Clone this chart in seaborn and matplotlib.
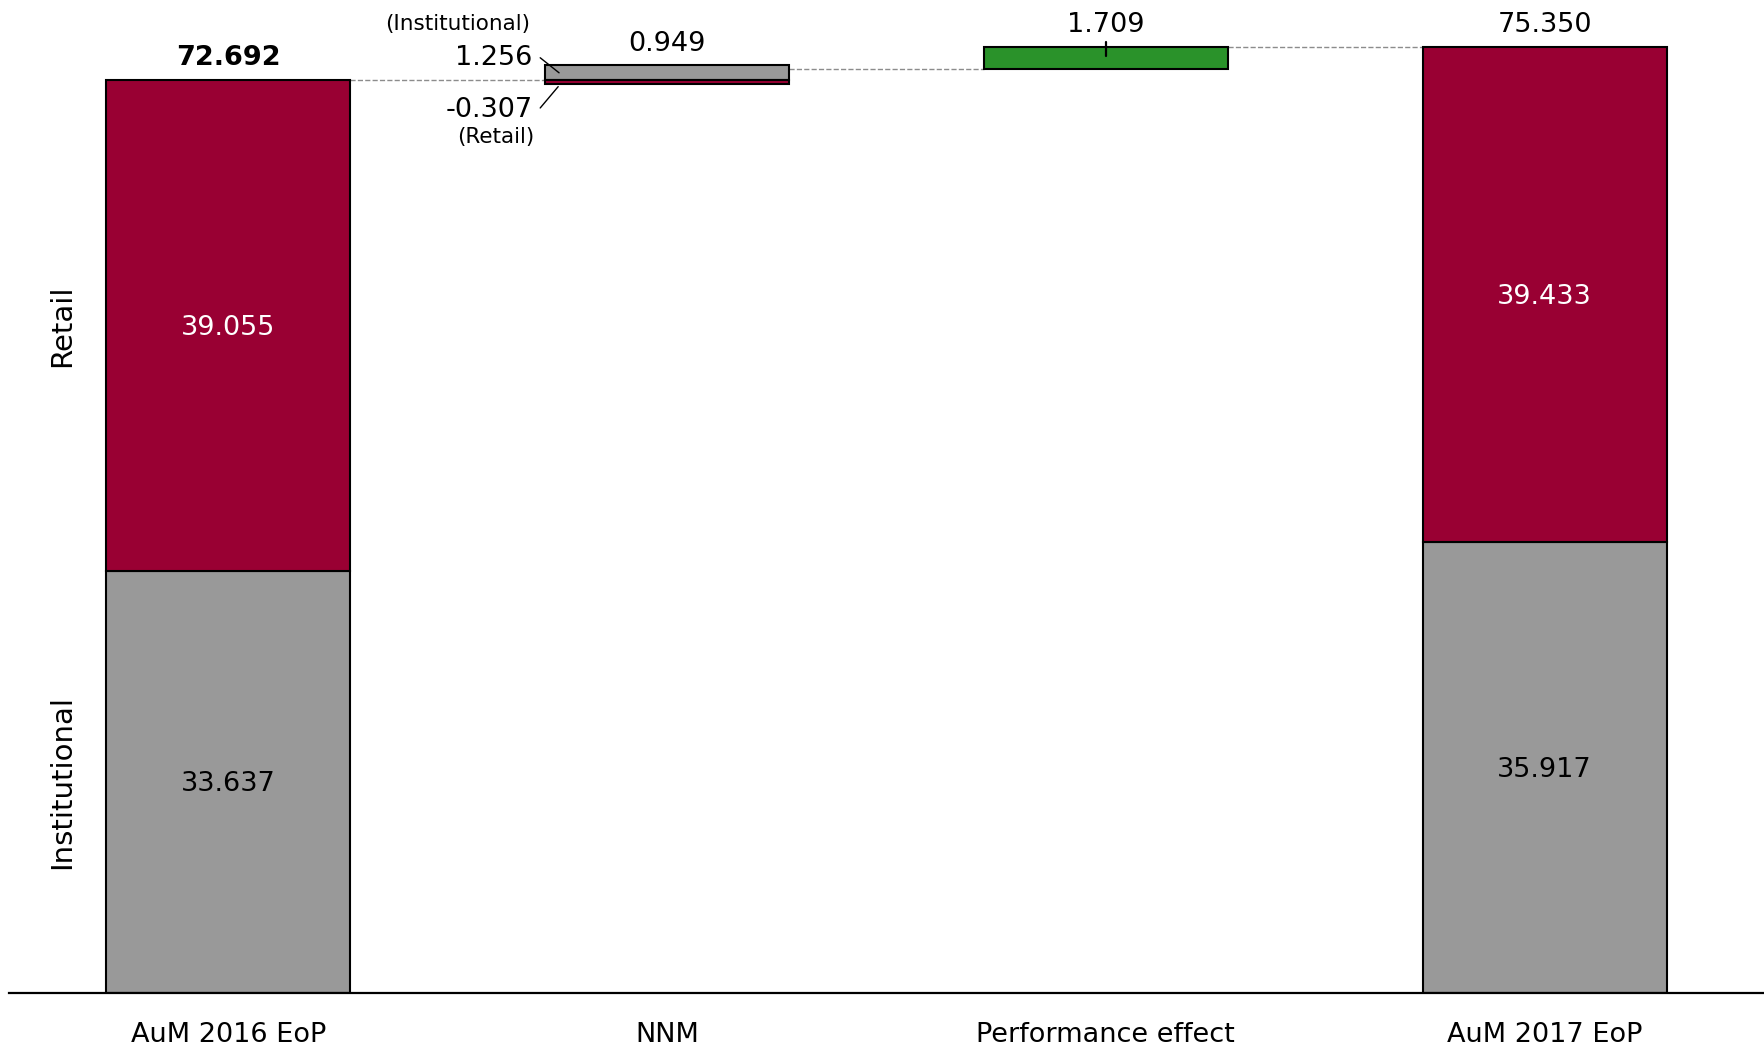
import matplotlib
matplotlib.use("Agg")
import matplotlib.pyplot as plt
import seaborn as sns
import pandas as pd

# Categories and values (AuM bridge, EUR bn)
categories = ["AuM 2016 EoP", "NNM", "Performance effect", "AuM 2017 EoP"]
start_institutional = 33.637
start_retail = 39.055
start_total = 72.692
nnm_institutional = 1.256
nnm_retail = -0.307
nnm_total = 0.949
performance = 1.709
end_institutional = 35.917
end_retail = 39.433
end_total = 75.350

RED = "#990033"
GREY = "#999999"
GREEN = "#2a922a"

sns.set_theme(style="white")
plt.rcParams["font.family"] = ["DejaVu Sans"]

fig = plt.figure(figsize=(17.64, 10.52), dpi=100)
ax = fig.add_axes([0.005, 0.056, 0.995, 0.944])

# Segments: category, bottom, height, colour
nnm_base = start_total
perf_base = start_total + nnm_total
segments = pd.DataFrame([
    (categories[0], 0.0, start_institutional, GREY),
    (categories[0], start_institutional, start_retail, RED),
    (categories[1], nnm_base, nnm_institutional, GREY),
    (categories[1], nnm_base + nnm_retail, -nnm_retail, RED),
    (categories[2], perf_base, performance, GREEN),
    (categories[3], 0.0, end_institutional, GREY),
    (categories[3], end_institutional, end_retail, RED),
], columns=["category", "bottom", "height", "color"])

BAR_W = 0.556
for _, seg in segments.iterrows():
    sns.barplot(x=[seg["category"]], y=[seg["height"]], order=categories,
                bottom=seg["bottom"], color=seg["color"], saturation=1,
                edgecolor="black", linewidth=1.5, width=BAR_W, ax=ax)

ax.set_xlim(-0.5, 3.5)
ax.set_ylim(0, 79.1)
ax.set_xlabel("")
ax.set_ylabel("")
ax.set_yticks([])
for side in ["top", "right", "left"]:
    ax.spines[side].set_visible(False)
ax.spines["bottom"].set_color("black")
ax.spines["bottom"].set_linewidth(1.6)
ax.tick_params(axis="x", length=0, pad=21, labelsize=19.5, colors="black")

# Dashed connectors between consecutive bars
half = BAR_W / 2
levels = [start_total, start_total + nnm_total, end_total]
for i, lvl in enumerate(levels):
    ax.plot([i + half, i + 1 - half], [lvl, lvl], ls="--", color="#8c8c8c",
            lw=1.0, zorder=0)

fs = 19.5
# Totals above the end bars
ax.text(0, start_total + 1.75, f"{start_total:.3f}", ha="center", va="center",
        fontsize=fs, fontweight="bold", color="black")
ax.text(3, end_total + 1.75, f"{end_total:.3f}", ha="center", va="center",
        fontsize=fs, color="black")

# Segment values inside the end bars
ax.text(0, start_institutional + start_retail / 2 - 0.2, f"{start_retail:.3f}",
        ha="center", va="center", fontsize=fs, color="white")
ax.text(0, start_institutional / 2 - 0.2, f"{start_institutional:.3f}",
        ha="center", va="center", fontsize=fs, color="black")
ax.text(3, end_institutional + end_retail / 2 - 0.2, f"{end_retail:.3f}",
        ha="center", va="center", fontsize=fs, color="white")
ax.text(3, end_institutional / 2 - 0.2, f"{end_institutional:.3f}",
        ha="center", va="center", fontsize=fs, color="black")

# NNM labels
ax.text(1, nnm_base + nnm_institutional + 1.65, f"{nnm_total:.3f}",
        ha="center", va="center", fontsize=fs, color="black")
lx = 1 - half - 0.028
ax.text(lx, start_total + 1.75, f"{nnm_institutional:.3f}", ha="right",
        va="center", fontsize=fs, color="black")
ax.text(lx - 0.007, 77.15, "(Institutional)", ha="right", va="center",
        fontsize=15.5, color="black")
ax.text(lx, start_total - 2.35, f"{nnm_retail:.3f}", ha="right",
        va="center", fontsize=fs, color="black")
ax.text(lx + 0.004, 68.2, "(Retail)", ha="right", va="center",
        fontsize=15.5, color="black")
ax.plot([0.711, 0.754], [74.5, 73.3], color="black", lw=1.0)
ax.plot([0.711, 0.752], [70.5, 72.2], color="black", lw=1.0)

# Performance label with tick into the bar
ax.text(2, end_total + 1.75, f"{performance:.3f}", ha="center", va="center",
        fontsize=fs, color="black")
ax.plot([2, 2], [75.75, 74.65], color="black", lw=1.6)

# Vertical segment captions
ax.text(-0.378, start_institutional + start_retail / 2, "Retail", rotation=90,
        ha="center", va="center", fontsize=21, color="black")
ax.text(-0.378, start_institutional / 2, "Institutional", rotation=90,
        ha="center", va="center", fontsize=21, color="black")

fig.savefig("out.png", dpi=100)
